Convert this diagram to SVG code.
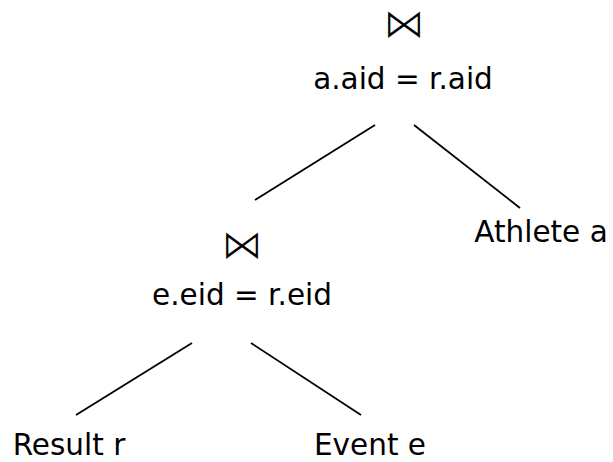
<svg xmlns="http://www.w3.org/2000/svg" width="613" height="462" viewBox="0 0 613 462">
<style>
text{font-family:"DejaVu Sans","Liberation Sans",sans-serif;font-size:29.5px;fill:#000;text-anchor:middle}
.op{font-size:42px;stroke:#fff;stroke-width:1.1}
line{stroke:#000;stroke-width:1.8;stroke-linecap:butt}
</style>
<rect width="613" height="462" fill="#fff"/>
<g id="connectors">
<line x1="375" y1="125" x2="255" y2="200"/>
<line x1="414" y1="125" x2="520" y2="208"/>
<line x1="192" y1="343" x2="76" y2="415"/>
<line x1="251" y1="343" x2="361" y2="415"/>
</g>
<g id="join1">
<text class="op" x="404" y="38">⋈</text>
<text x="403" y="89">a.aid = r.aid</text>
</g>
<g id="athlete">
<text x="541" y="242">Athlete a</text>
</g>
<g id="join2">
<text class="op" x="242" y="259">⋈</text>
<text x="242" y="305">e.eid = r.eid</text>
</g>
<g id="result">
<text x="69" y="455">Result r</text>
</g>
<g id="event">
<text x="370" y="455">Event e</text>
</g>
</svg>
